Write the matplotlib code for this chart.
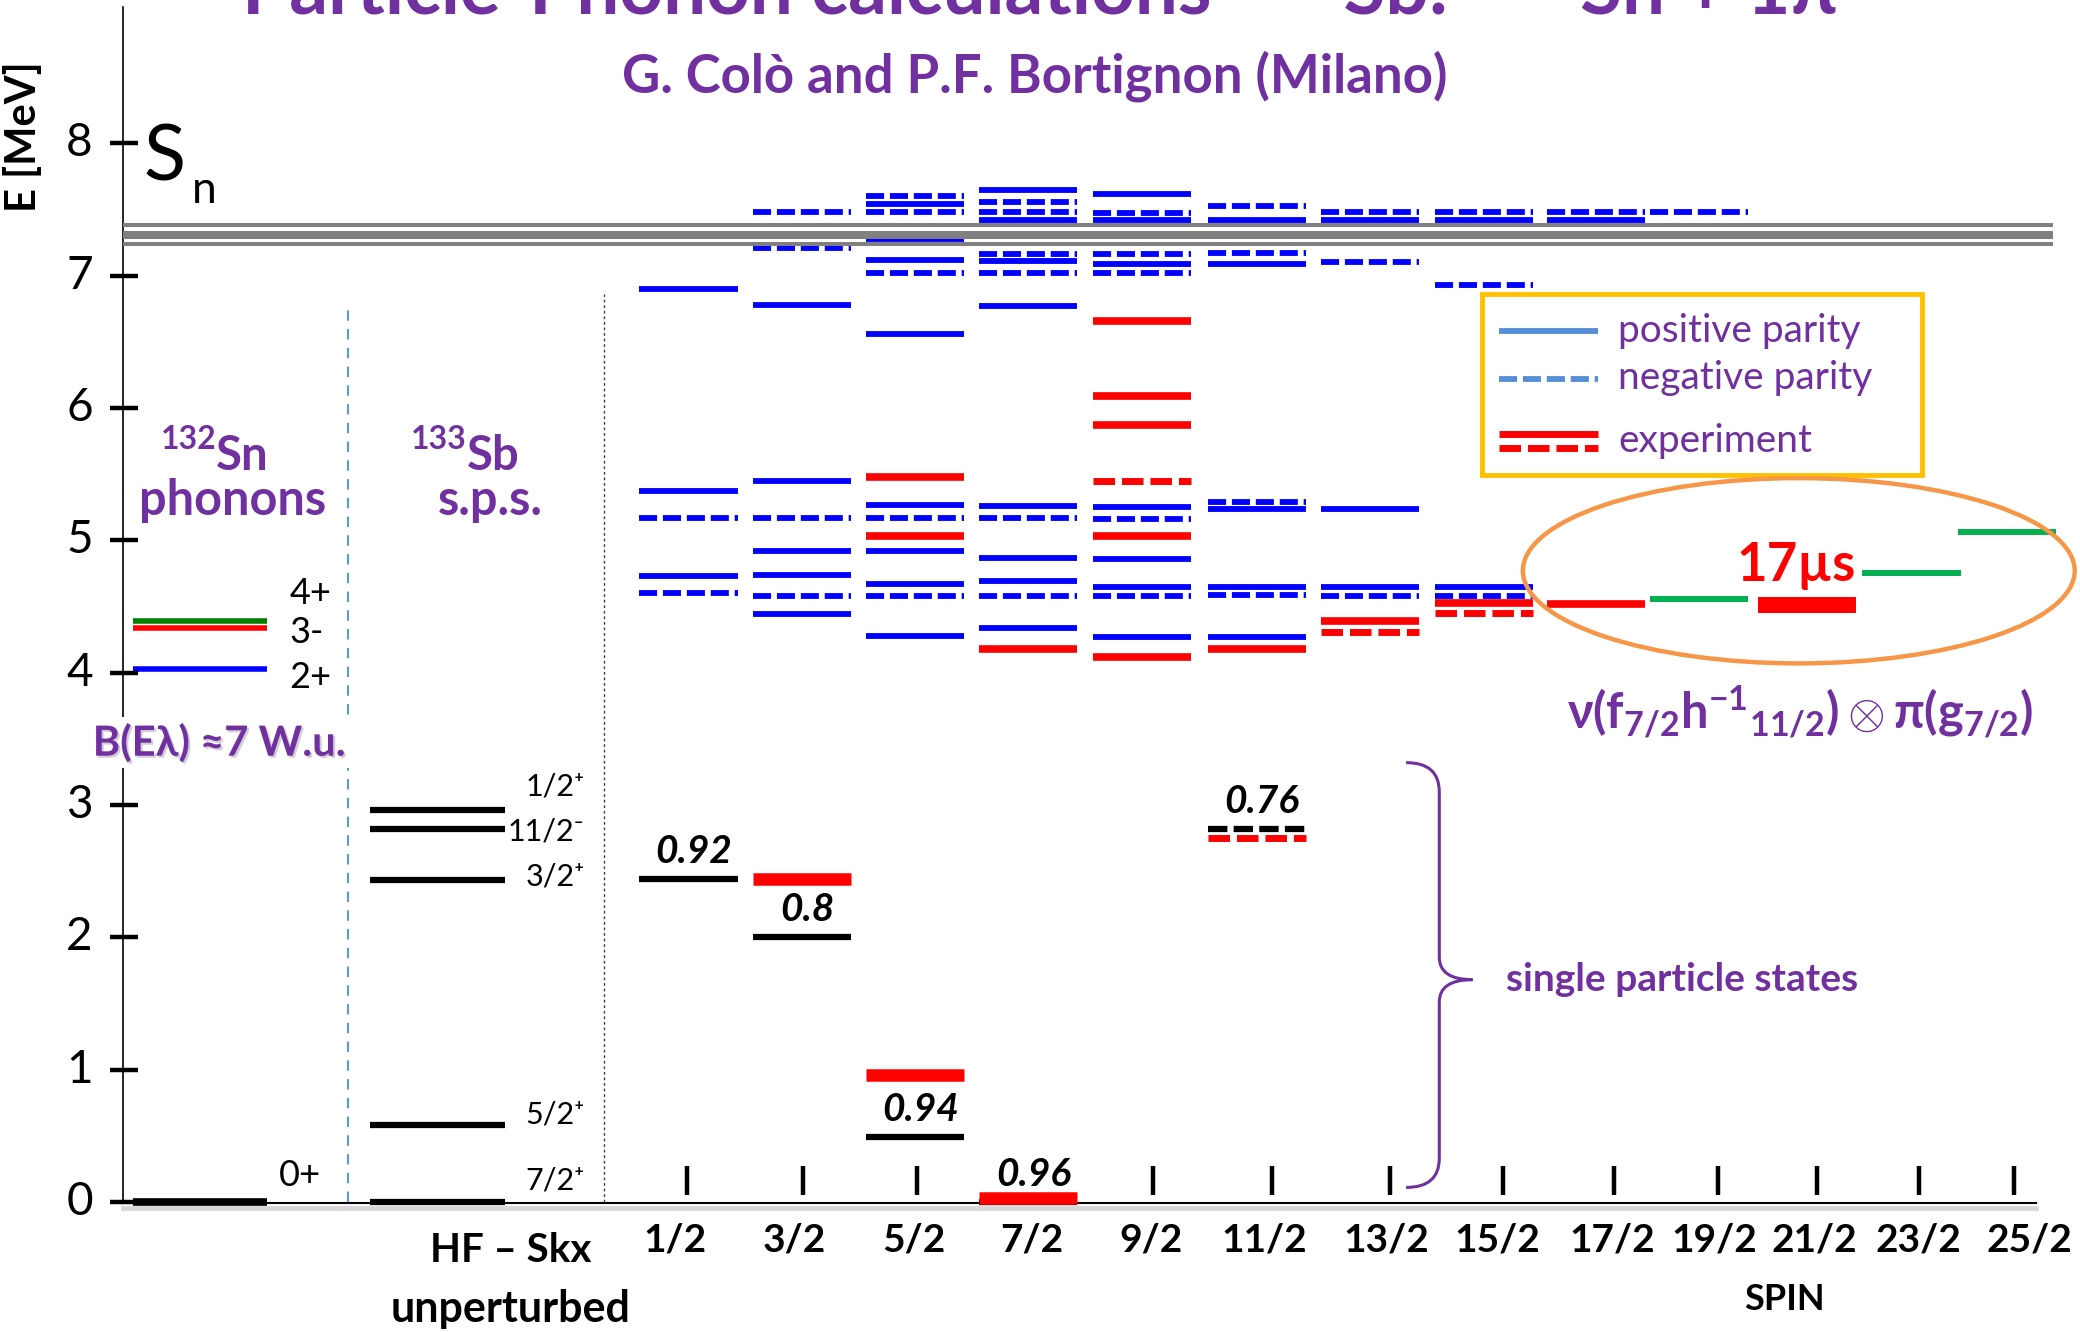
import matplotlib.pyplot as plt
import matplotlib.patheffects as pe
from matplotlib.patches import Ellipse, Rectangle, PathPatch
from matplotlib.path import Path

plt.rcParams['font.family'] = ['Lato', 'DejaVu Sans']
plt.rcParams['mathtext.fontset'] = 'custom'
plt.rcParams['mathtext.rm'] = 'Lato:bold'
plt.rcParams['mathtext.it'] = 'Lato:bold'
plt.rcParams['mathtext.bf'] = 'Lato:bold'

PURPLE = '#7030A0'
BLUE = '#0000FF'
RED = '#FF0000'
GREEN = '#00B050'
DASH = (0, (3.1, 1.0))

# ---- data (energies in MeV) ----
spins = ['1/2', '3/2', '5/2', '7/2', '9/2', '11/2', '13/2',
         '15/2', '17/2', '19/2', '21/2', '23/2', '25/2']

# particle-phonon calculation, one list per spin
pos_parity = [
    [6.90, 5.37, 4.73],
    [6.78, 5.45, 4.92, 4.74, 4.44],
    [7.54, 7.28, 7.12, 6.56, 5.27, 4.92, 4.67, 4.28],
    [7.65, 7.42, 7.11, 6.77, 5.26, 4.87, 4.69, 4.34],
    [7.62, 7.42, 7.09, 5.25, 4.86, 4.65, 4.27],
    [7.42, 7.09, 5.24, 4.65, 4.27],
    [7.42, 5.24, 4.65],
    [7.42, 4.65],
    [7.42],
    [], [], [], [],
]
neg_parity = [
    [5.17, 4.60],
    [7.48, 7.21, 5.17, 4.58],
    [7.60, 7.48, 7.02, 5.17, 4.58],
    [7.56, 7.48, 7.16, 7.02, 5.17, 4.58],
    [7.47, 7.16, 7.02, 5.16, 4.58],
    [7.53, 7.17, 5.29, 4.59],
    [7.48, 7.10, 4.58],
    [7.48, 6.93, 4.58],
    [7.48],
    [7.48],
    [], [], [],
]

# experiment
exp_solid = [
    [], [], [5.48, 5.03], [4.18], [6.66, 6.09, 5.87, 5.03, 4.12],
    [4.18], [4.39], [4.53], [4.52], [], [], [], [],
]
exp_dashed = [
    [], [], [], [], [5.45], [2.75], [4.31], [4.45], [], [], [], [], [],
]
exp_strong = [
    [], [2.44], [0.96], [0.03], [], [], [], [], [], [], [4.51], [], [],
]

# nu(f7/2 h-1 11/2) x pi(g7/2) multiplet
multiplet = [[], [], [], [], [], [], [], [], [], [4.56], [], [4.75], [5.06]]

# single particle states and spectroscopic factors
sp_solid = [[2.44], [2.00], [0.49], [0.0], [], [], [], [], [], [], [], [], []]
sp_dashed = [[], [], [], [], [], [2.82], [], [], [], [], [], [], []]
sp_factor = ['0.92', '0.8', '0.94', '0.96', '', '0.76', '', '', '', '', '', '', '']

# 132Sn phonons
phonon_labels = ['4+', '3-', '2+', '0+']
phonon_E = [4.39, 4.34, 4.03, 0.0]

# 133Sb single particle states (HF - Skx)
sps_labels = ['1/2⁺', '11/2⁻', '3/2⁺', '5/2⁺', '7/2⁺']
sps_E = [2.96, 2.82, 2.43, 0.58, 0.0]

# neutron separation energy band
sn_lines = [7.38, 7.31, 7.24]

yticks = [0, 1, 2, 3, 4, 5, 6, 7, 8]

# ---- layout ----
col_x = [519, 604.5, 690, 775, 861, 947.5, 1033, 1119, 1203, 1281, 1362, 1441, 1513]
tick_x = [518, 605, 691, None, 869, 959, 1048, 1133, 1217, 1295, 1370, 1447, 1518]
label_x = [509, 599, 689, 778, 868, 953, 1045, 1129, 1215, 1292, 1368, 1446, 1530]
HW = 37

fig = plt.figure(figsize=(20.8, 13.32), dpi=100)
ax = fig.add_axes([0, 0, 1, 1])
ax.set_xlim(0, 1568)
ax.set_ylim(-0.9825, 9.083)
ax.axis('off')


def level(x, e, color, lw=4.2, ls='-', hw=HW, z=2):
    ax.plot([x - hw, x + hw], [e, e], color=color, lw=lw, ls=ls,
            solid_capstyle='butt', dash_capstyle='butt', zorder=z)


for i, x in enumerate(col_x):
    for e in pos_parity[i]:
        level(x, e, BLUE)
    for e in neg_parity[i]:
        level(x, e, BLUE, ls=DASH)
    for e in sp_solid[i]:
        level(x, e, 'black', lw=4.5)
    for e in sp_dashed[i]:
        level(x, e, 'black', lw=4.5, ls=DASH)
    for e in exp_solid[i]:
        level(x, e, RED, lw=5.5, z=3)
    for e in exp_dashed[i]:
        level(x, e, RED, lw=5.0, ls=DASH, z=3)
    for e in exp_strong[i]:
        level(x, e, RED, lw=11.5 if e > 4 else 9, z=3)
    for e in multiplet[i]:
        level(x, e, GREEN, lw=4.3)
    if sp_factor[i]:
        e0 = (sp_solid[i] + sp_dashed[i])[0]
        ax.text(x + 4, e0 + 0.21, sp_factor[i], ha='center', va='center',
                fontsize=28, fontweight='bold', fontstyle='italic', zorder=5)

# 132Sn phonons
ph_colors = ['#008000', RED, BLUE, 'black']
for lab, e, c in zip(phonon_labels, phonon_E, ph_colors):
    level(150.5, e, c, lw=5.5 if e == 0 else 4.0, hw=50.5)
ax.text(218, 4.60, '4+', fontsize=26, va='center')
ax.text(218, 4.30, '3-', fontsize=26, va='center')
ax.text(218, 3.96, '2+', fontsize=26, va='center')
ax.text(210, 0.20, '0+', fontsize=26, va='center')

# 133Sb s.p.s.
for lab, e in zip(sps_labels, sps_E):
    level(330, e, 'black', lw=4.5, hw=51)
sps_lab_y = [3.14, 2.80, 2.46, 0.66, 0.16]
sps_lab_x = [396, 383, 396, 396, 396]
for lab, xl, yl in zip(sps_labels, sps_lab_x, sps_lab_y):
    ax.text(xl, yl, lab, fontsize=22, va='center')

# Sn band
for e, lw in zip(sn_lines, [2.9, 5.8, 2.9]):
    ax.plot([93, 1548], [e, e], color='#808080', lw=lw, zorder=4,
            solid_capstyle='butt')
ax.text(108, 7.88, 'S', fontsize=56, va='center', ha='left')
ax.text(145, 7.64, 'n', fontsize=32, va='center', ha='left')

# axes
ax.plot([93, 93], [0, 9.03], color='black', lw=1.2, zorder=1)
for t in yticks:
    ax.plot([83, 104], [t, t], color='black', lw=3.2, solid_capstyle='butt')
    ax.text(70, t, str(t), fontsize=33, ha='right', va='center')
ax.text(18, 8.05, 'E [MeV]', fontsize=30, fontweight='bold', rotation=90,
        ha='center', va='center')
ax.plot([93, 1535], [-0.045, -0.045], color='#909090', lw=3.5, alpha=0.35,
        zorder=1)
ax.plot([93, 1535], [-0.01, -0.01], color='black', lw=1.5, zorder=2)
for tx, lx, s in zip(tick_x, label_x, spins):
    if tx is not None:
        ax.plot([tx, tx], [0.05, 0.27], color='black', lw=3.2,
                solid_capstyle='butt')
    ax.text(lx, -0.29, s, fontsize=28, fontweight='bold', ha='center',
            va='center')
ax.text(1345, -0.74, 'SPIN', fontsize=26, fontweight='bold', ha='center',
        va='center')
ax.text(385, -0.37, 'HF – Skx', fontsize=29, fontweight='bold', ha='center',
        va='center')
ax.text(385, -0.81, 'unperturbed', fontsize=31, fontweight='bold',
        ha='center', va='center')

# separators
ax.plot([262, 262], [0, 6.75], color='#5B9BD5', lw=1.5, ls=(0, (5, 4)))
ax.plot([455, 455], [0, 6.86], color='#404040', lw=1.0, ls=(0, (2, 2)))

# panel titles
ax.text(163, 5.76, '132', fontsize=23, fontweight='bold', color=PURPLE,
        ha='right', va='center')
ax.text(163, 5.64, 'Sn', fontsize=34, fontweight='bold', color=PURPLE,
        ha='left', va='center')
ax.text(175, 5.30, 'phonons', fontsize=35, fontweight='bold', color=PURPLE,
        ha='center', va='center')
ax.text(352, 5.76, '133', fontsize=23, fontweight='bold', color=PURPLE,
        ha='right', va='center')
ax.text(352, 5.64, 'Sb', fontsize=34, fontweight='bold', color=PURPLE,
        ha='left', va='center')
ax.text(370, 5.30, 's.p.s.', fontsize=35, fontweight='bold', color=PURPLE,
        ha='center', va='center')
ax.text(165, 3.47, 'B(Eλ) ≈7 W.u.', fontsize=30, fontweight='bold',
        color=PURPLE, ha='center', va='center', zorder=6,
        bbox=dict(facecolor='white', edgecolor='none', pad=4),
        path_effects=[pe.SimplePatchShadow(offset=(1.5, -1.5), alpha=0.2),
                      pe.Normal()])

# titles
ax.text(784, 8.98, 'Particle-Phonon calculations   ¹³³Sb:   ¹³²Sn + 1π',
        fontsize=55, fontweight='bold', color=PURPLE, ha='center',
        va='baseline')
ax.text(780, 8.51, 'G. Colò and P.F. Bortignon (Milano)', fontsize=38,
        fontweight='bold', color=PURPLE, ha='center', va='center')

# legend
ax.add_patch(Rectangle((1117, 5.49), 332, 1.37, facecolor='white',
                       edgecolor='#FFC000', lw=3.5, zorder=4))
lc = '#558ED5'
ax.plot([1130, 1205], [6.58, 6.58], color=lc, lw=4.2, zorder=5,
        solid_capstyle='butt')
ax.plot([1130, 1205], [6.22, 6.22], color=lc, lw=4.2, ls=DASH, zorder=5,
        dash_capstyle='butt')
ax.plot([1130, 1205], [5.80, 5.80], color=RED, lw=5.0, zorder=5,
        solid_capstyle='butt')
ax.plot([1130, 1205], [5.70, 5.70], color=RED, lw=5.0, ls=DASH, zorder=5,
        dash_capstyle='butt')
for txt, yy in zip(['positive parity', 'negative parity', 'experiment'],
                   [6.58, 6.23, 5.75]):
    ax.text(1220, yy, txt, fontsize=28, color=PURPLE, va='center', zorder=5)

# multiplet highlight
ax.add_patch(Ellipse((1356, 4.77), 416, 1.40, fill=False, ec='#F79646',
                     lw=3.2, zorder=4))
ax.text(1354, 4.81, '17µs', fontsize=38, fontweight='bold', color=RED,
        ha='center', va='center', zorder=5)
ax.text(1357, 3.70,
        r'$\nu(\mathrm{f}_{7/2}\mathrm{h}^{-1}{}_{11/2})\otimes\pi(\mathrm{g}_{7/2})$',
        fontsize=35, color=PURPLE, ha='center', va='center')

# single particle brace
verts = [(1060, 3.32), (1085, 3.32), (1085, 3.10), (1085, 1.85),
         (1085, 1.68), (1110, 1.68), (1085, 1.68), (1085, 1.51),
         (1085, 0.33), (1085, 0.11), (1060, 0.11)]
codes = [Path.MOVETO, Path.CURVE3, Path.CURVE3, Path.LINETO,
         Path.CURVE3, Path.CURVE3, Path.CURVE3, Path.CURVE3,
         Path.LINETO, Path.CURVE3, Path.CURVE3]
ax.add_patch(PathPatch(Path(verts, codes), fill=False, ec=PURPLE, lw=2.2))
ax.text(1135, 1.68, 'single particle states', fontsize=28, fontweight='bold',
        color=PURPLE, ha='left', va='center')

fig.savefig('out.png', dpi=100)
